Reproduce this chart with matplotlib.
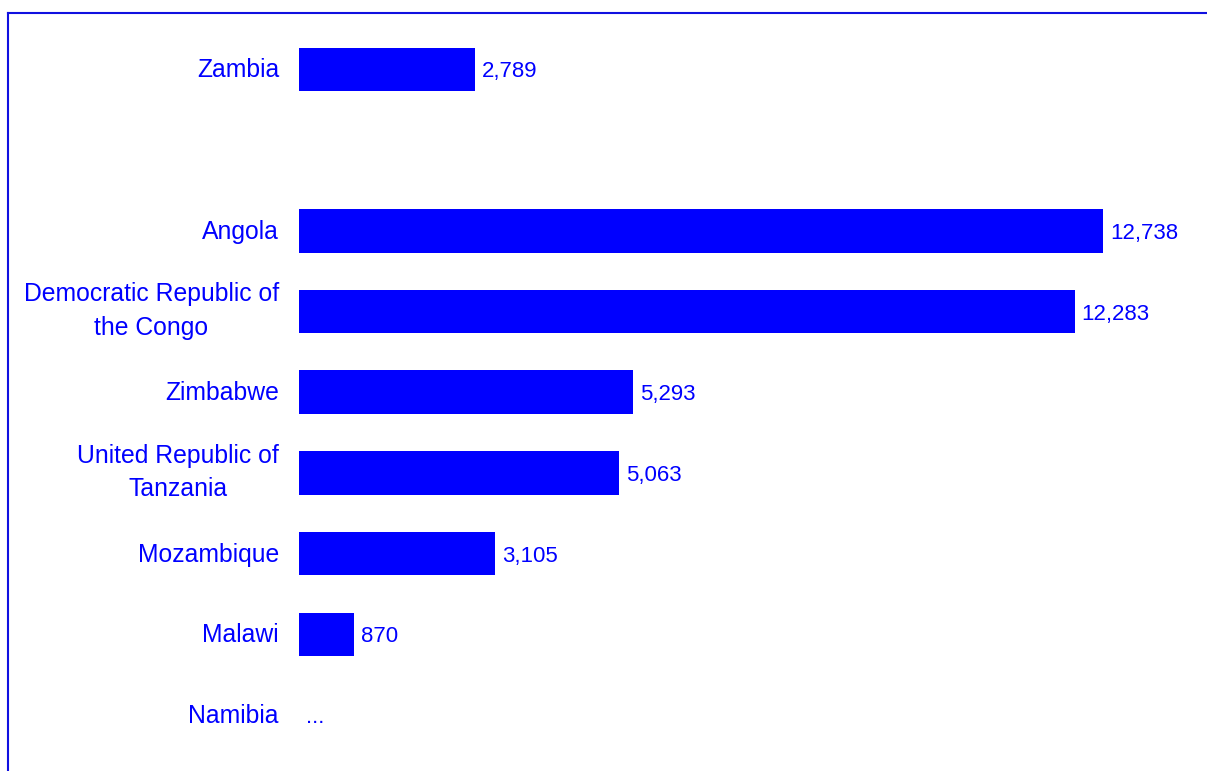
import numpy as np
import matplotlib
matplotlib.use("Agg")
import matplotlib.pyplot as plt
import matplotlib.transforms as mtransforms
from matplotlib.lines import Line2D

# data (blank entry = empty row in the original chart, None = no data "...")
countries = ["Zambia", "", "Angola", "Democratic Republic of\nthe Congo", "Zimbabwe",
             "United Republic of\nTanzania", "Mozambique", "Malawi", "Namibia"]
values = [2789, None, 12738, 12283, 5293, 5063, 3105, 870, None]

BLUE = "#0000FF"
plt.rcParams["font.family"] = ["Liberation Sans", "DejaVu Sans"]

W, H = 1207, 771
fig = plt.figure(figsize=(W / 100, H / 100), dpi=100)
fig.patch.set_facecolor("white")

# axes placed so bars start at x=299px
left, right = 299 / W, 1183 / W
top, bottom = 1 - 29 / H, 1 - 755.5 / H
ax = fig.add_axes([left, bottom, right - left, top - bottom])

for i, (name, v) in enumerate(zip(countries, values)):
    if v is not None:
        ax.barh(i, v, height=0.54, color=BLUE, edgecolor="none")
        ax.text(v + 110, i, f"{v:,}", va="center_baseline", ha="left", color=BLUE, fontsize=16)
    elif name:
        ax.text(110, i, "...", va="center_baseline", ha="left", color=BLUE, fontsize=16)

    # category labels, right-aligned 20px left of the bar origin
    if name:
        dy = (-1 + 1.5 * name.count("\n")) / 100
        tr = ax.get_yaxis_transform() + mtransforms.ScaledTranslation(-20 / 100, dy, fig.dpi_scale_trans)
        ax.text(0, i, name, transform=tr, ha="right", va="center", multialignment="center",
                color=BLUE, fontsize=17.8, linespacing=1.48)

ax.set_xlim(0, 14000)
ax.set_ylim(len(countries) - 0.5, -0.5)
ax.set_xticks([])
ax.set_yticks([])
for s in ax.spines.values():
    s.set_visible(False)

# outer frame (cut off at right/bottom like the original)
fx = 8 / W
fy = 1 - 13 / H
fig.add_artist(Line2D([fx, 1.0], [fy, fy], transform=fig.transFigure, color="#1010E0", lw=1.5))
fig.add_artist(Line2D([fx, fx], [0.0, fy], transform=fig.transFigure, color="#1010E0", lw=1.5))

fig.savefig("out.png", dpi=100)
